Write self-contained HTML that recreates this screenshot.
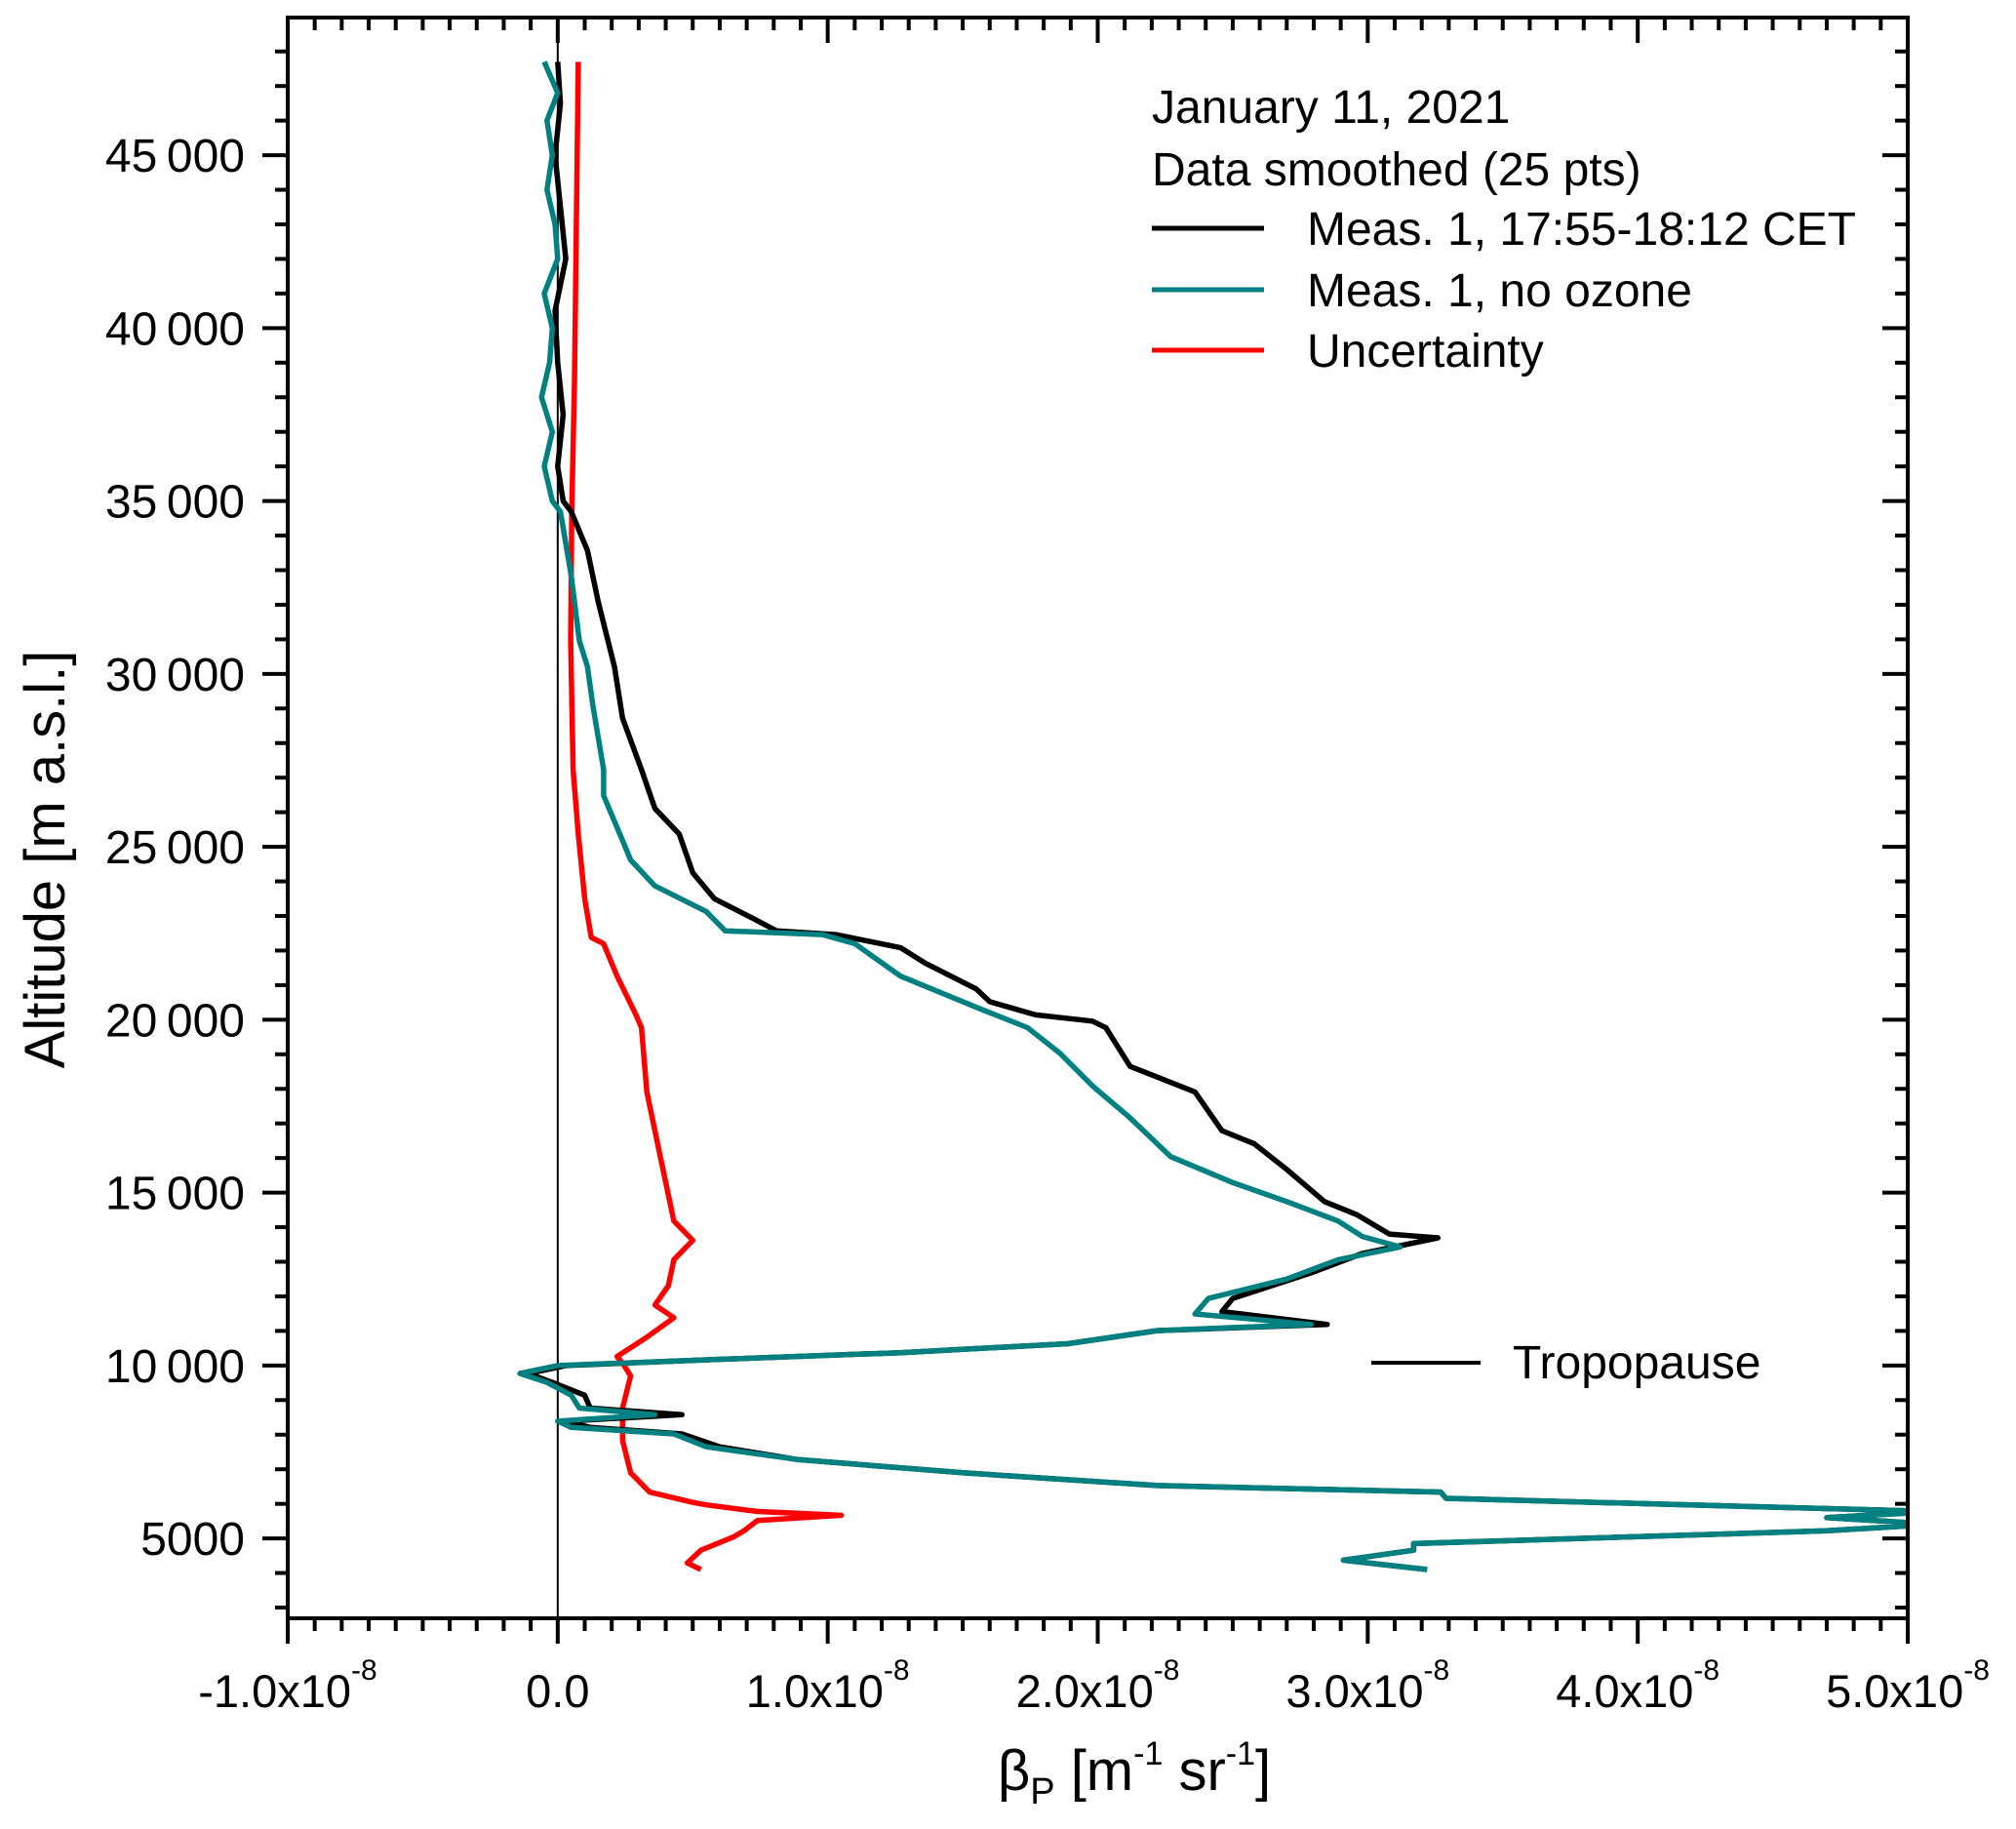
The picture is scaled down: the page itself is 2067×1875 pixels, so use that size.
<!DOCTYPE html>
<html><head><meta charset="utf-8">
<style>
html,body{margin:0;padding:0;background:#fff;}
svg{display:block;font-family:"Liberation Sans",Arial,sans-serif;}
</style></head>
<body>
<svg id="chart" width="2067" height="1875" viewBox="0 0 2067 1875" xmlns="http://www.w3.org/2000/svg">
<defs><clipPath id="plotclip"><rect x="295" y="18" width="1661" height="1641"/></clipPath></defs>
<g id="grid"></g>
<g id="series" clip-path="url(#plotclip)"></g>
<g id="axes"></g>
<g id="legend">
  <text x="1181" y="126" font-size="48">January 11, 2021</text>
  <text x="1181" y="190" font-size="48">Data smoothed (25 pts)</text>
  <line x1="1181" y1="234" x2="1296" y2="234" stroke="#000" stroke-width="5"/>
  <text x="1340" y="251" font-size="48">Meas. 1, 17:55-18:12 CET</text>
  <line x1="1181" y1="297" x2="1296" y2="297" stroke="#008080" stroke-width="5"/>
  <text x="1340" y="314" font-size="48">Meas. 1, no ozone</text>
  <line x1="1181" y1="359" x2="1296" y2="359" stroke="#ff0000" stroke-width="5"/>
  <text x="1340" y="376" font-size="48">Uncertainty</text>
  <line x1="1406" y1="1397" x2="1518" y2="1397" stroke="#000" stroke-width="4"/>
  <text x="1551" y="1413" font-size="48">Tropopause</text>
</g>
<text transform="translate(66,881) rotate(-90)" text-anchor="middle" font-size="58">Altitude [m a.s.l.]</text>
<text x="1163" y="1835" text-anchor="middle" font-size="58">β<tspan font-size="38" dy="14">P</tspan><tspan dy="-14"> [m</tspan><tspan font-size="34" dy="-26">-1</tspan><tspan dy="26"> sr</tspan><tspan font-size="34" dy="-26">-1</tspan><tspan dy="26">]</tspan></text>
</svg>
<script>
// ---- data ----
const blackAlt = [47700,46500,45000,43500,42000,40500,39000,37500,36000,35000,34690,33570,32080,30210,28720,27230,26110,25370,24250,23500,22940,22570,22460,22080,21640,20890,20520,20140,19960,19770,18650,17910,16790,16410,15670,14740,14360,13800,13690,13240,12680,11940,11560,11190,11010,10630,10370,10180,10000,9770,9510,9140,8770,8580,8390,8210,8020,7650,7280,6900,6530,6340,6160,5780,5600,5410,5220,4850,4660,4370,4100];
const blackVal = [0.00,0.01,-0.01,0.01,0.03,-0.01,0.00,0.02,0.00,0.02,0.05,0.11,0.15,0.21,0.24,0.31,0.36,0.45,0.50,0.58,0.72,0.81,1.03,1.27,1.36,1.55,1.60,1.77,1.98,2.03,2.12,2.36,2.46,2.58,2.70,2.84,2.96,3.08,3.26,2.98,2.79,2.50,2.46,2.85,2.22,1.89,1.27,0.60,0.03,-0.11,-0.02,0.10,0.12,0.46,0.03,0.12,0.46,0.60,0.89,1.50,2.22,3.27,3.29,5.10,4.70,5.10,4.70,3.17,3.17,2.91,3.22];
const tealAlt = [47700,46800,46000,45000,44000,43000,42000,41000,40000,39000,38000,37000,36000,35000,34690,32830,30960,30210,29100,27230,26480,25370,24620,23870,23130,22570,22460,22200,21260,20330,19770,19030,18090,17160,16040,15290,14740,14180,13730,13430,13060,12500,11940,11490,11190,11010,10630,10370,10180,10000,9770,9510,9140,8770,8580,8390,8210,8020,7650,7280,6900,6530,6340,6160,5780,5600,5410,5220,4850,4660,4370,4100];
const tealVal = [-0.05,0.00,-0.04,-0.02,-0.04,-0.01,0.00,-0.05,-0.02,-0.03,-0.06,-0.02,-0.05,-0.02,0.01,0.05,0.08,0.11,0.13,0.17,0.17,0.23,0.27,0.36,0.55,0.62,0.98,1.10,1.27,1.56,1.74,1.86,1.98,2.12,2.27,2.50,2.70,2.89,2.98,3.12,2.89,2.70,2.41,2.36,2.79,2.22,1.89,1.27,0.60,0.00,-0.14,-0.04,0.05,0.08,0.36,0.00,0.05,0.43,0.55,0.89,1.50,2.22,3.27,3.29,5.10,4.70,5.10,4.70,3.17,3.17,2.91,3.22];
const redAlt = [47700,38420,34690,30960,27230,25370,23500,22380,22200,21260,20140,19770,17910,16040,14180,13620,13060,12310,11750,11380,10820,10260,10070,9700,8770,7830,6900,6340,6040,5970,5780,5670,5520,5220,5040,4660,4290,4100];
const redVal = [0.076,0.062,0.052,0.048,0.057,0.076,0.10,0.124,0.17,0.22,0.29,0.31,0.33,0.38,0.43,0.50,0.43,0.41,0.36,0.43,0.33,0.22,0.24,0.27,0.24,0.24,0.27,0.34,0.50,0.55,0.74,1.05,0.74,0.69,0.65,0.53,0.48,0.53];
const xTickVals = [-1,0,1,2,3,4,5];
const xTickLabels = ["-1.0x10","0.0","1.0x10","2.0x10","3.0x10","4.0x10","5.0x10"];
const yTickVals = [5000,10000,15000,20000,25000,30000,35000,40000,45000];
const yTickLabels = ["5000","10\u2009000","15\u2009000","20\u2009000","25\u2009000","30\u2009000","35\u2009000","40\u2009000","45\u2009000"];

// ---- scales ----
const L=295,R=1956,T=18,B=1659;
const xMin=-1,xMax=5,yMin=2690,yMax=48980;
const xs=v=>L+(v-xMin)/(xMax-xMin)*(R-L);
const ys=h=>B-(h-yMin)/(yMax-yMin)*(B-T);
const NS="http://www.w3.org/2000/svg";
function mk(tag,attrs,parent){const e=document.createElementNS(NS,tag);for(const k in attrs)e.setAttribute(k,attrs[k]);parent.appendChild(e);return e;}
const axes=document.getElementById('axes'),series=document.getElementById('series'),grid=document.getElementById('grid');

const zl=mk('line',{x1:xs(0),x2:xs(0),y1:T,y2:B,stroke:'#000','stroke-width':2},grid);



function drawSeries(alts,vals,color,name){
  const d=alts.map((h,i)=>(i?'L':'M')+xs(vals[i]).toFixed(1)+' '+ys(h).toFixed(1)).join(' ');
  const p=mk('path',{d:d,fill:'none',stroke:color,'stroke-width':5.5,'stroke-linejoin':'round'},series);
  
  
}
drawSeries(redAlt,redVal,'#ff0000','uncertainty-line');
drawSeries(blackAlt,blackVal,'#000000','meas1-line');
drawSeries(tealAlt,tealVal,'#008080','meas1-no-ozone-line');

const fr=mk('rect',{x:L,y:T,width:R-L,height:B-T,fill:'none',stroke:'#000','stroke-width':4},axes);



for(let k=-10;k<=50;k++){
  const v=k/10,x=xs(v),maj=(k%10===0),len=maj?26:13;
  const t1=mk('line',{x1:x,x2:x,y1:B,y2:B+len,stroke:'#000','stroke-width':4},axes);
  
  
  const t2=mk('line',{x1:x,x2:x,y1:T,y2:T+len,stroke:'#000','stroke-width':4},axes);
  
  
}
xTickVals.forEach((v,i)=>{
  const lab=xTickLabels[i];
  const t=mk('text',{x:xs(v),y:1750,'text-anchor':'middle','font-size':47},axes);
  
  
  t.textContent=lab;
  if(lab!=="0.0"){const s=mk('tspan',{'font-size':30,dy:-28},t);s.textContent='-8';}
});
for(let h=3000;h<=48000;h+=1000){
  const y=ys(h),maj=(h%5000===0),len=maj?26:13;
  const t1=mk('line',{x1:L-len,x2:L,y1:y,y2:y,stroke:'#000','stroke-width':4},axes);
  
  
  const t2=mk('line',{x1:R-len,x2:R,y1:y,y2:y,stroke:'#000','stroke-width':4},axes);
  
  
}
yTickVals.forEach((h,i)=>{
  const t=mk('text',{x:251,y:ys(h)+17,'text-anchor':'end','font-size':48},axes);
  
  
  t.textContent=yTickLabels[i];
});
</script>
</body></html>
